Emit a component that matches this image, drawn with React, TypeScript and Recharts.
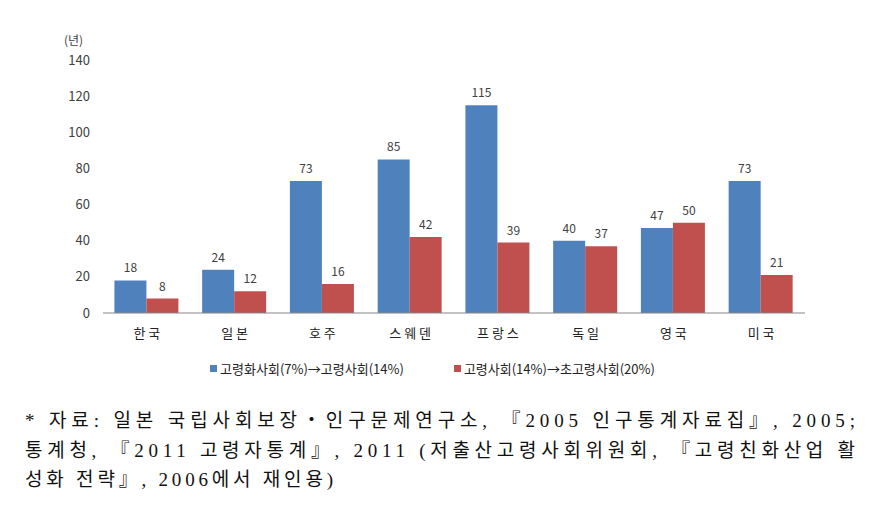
// Years taken to move between ageing-society stages, by country (grouped bars + source note).
import { Bar, BarChart, LabelList, Legend, XAxis, YAxis } from "recharts";

const countries = ["한 국", "일 본", "호 주", "스 웨 덴", "프 랑 스", "독 일", "영 국", "미 국"];
const agingToAged = [18, 24, 73, 85, 115, 40, 47, 73];
const agedToSuperAged = [8, 12, 16, 42, 39, 37, 50, 21];
const yTicks = [0, 20, 40, 60, 80, 100, 120, 140];

const seriesNames = ["고령화사회(7%)→고령사회(14%)", "고령사회(14%)→초고령사회(20%)"];
const noteLines = [
  "* 자료: 일본 국립사회보장・인구문제연구소, 『2005 인구통계자료집』, 2005;",
  "통계청, 『2011 고령자통계』, 2011 (저출산고령사회위원회, 『고령친화산업 활",
  "성화 전략』, 2006에서 재인용)",
];
const noteWidths = [830, 830, 308];

const BLUE = "#4F81BD";
const RED = "#C0504D";
const TEXT = "#404040";
const SANS = "'Noto Sans CJK KR', 'Noto Sans', sans-serif";

const data = countries.map((c, i) => ({ country: c, a: agingToAged[i], b: agedToSuperAged[i] }));

function LegendBox() {
  const items = [
    { name: seriesNames[0], color: BLUE },
    { name: seriesNames[1], color: RED },
  ];
  return (
    <div style={{ display: "flex", justifyContent: "center", gap: 50, paddingTop: 16, marginLeft: 60, fontSize: 13, color: "#222", fontFamily: SANS }}>
      {items.map((it) => (
        <span key={it.name} style={{ display: "flex", alignItems: "center" }}>
          <span style={{ width: 7, height: 7, background: it.color, marginRight: 3, display: "inline-block" }} />
          {it.name}
        </span>
      ))}
    </div>
  );
}

export default function App() {
  return (
    <div style={{ position: "absolute", left: 0, top: 0, width: 880, height: 513, background: "#fff" }}>
      <div style={{ position: "absolute", left: 64, top: 31, fontSize: 12, color: TEXT, fontFamily: SANS }}>(년)</div>
      <BarChart
        width={880}
        height={395}
        data={data}
        margin={{ top: 60, right: 75, bottom: 0, left: 0 }}
        barCategoryGap="13%"
        barGap={0}
      >
        <XAxis
          dataKey="country"
          axisLine={{ stroke: "#868686" }}
          tickLine={false}
          tickMargin={10}
          height={30}
          tick={{ fontSize: 13, fill: "#222", fontFamily: SANS }}
        />
        <YAxis
          width={103}
          domain={[0, 140]}
          ticks={yTicks}
          axisLine={false}
          tickLine={false}
          tickMargin={7}
          tick={{ fontSize: 13, fill: TEXT, fontFamily: SANS }}
        />
        <Legend verticalAlign="bottom" height={52} content={<LegendBox />} />
        <Bar dataKey="a" name={seriesNames[0]} fill={BLUE} isAnimationActive={false}>
          <LabelList dataKey="a" position="top" offset={8} style={{ fontSize: 12, fill: TEXT, fontFamily: SANS }} />
        </Bar>
        <Bar dataKey="b" name={seriesNames[1]} fill={RED} isAnimationActive={false}>
          <LabelList dataKey="b" position="top" offset={8} style={{ fontSize: 12, fill: TEXT, fontFamily: SANS }} />
        </Bar>
      </BarChart>
      <svg style={{ position: "absolute", left: 0, top: 400 }} width={880} height={113}>
        {noteLines.map((line, i) => (
          <text
            key={i}
            x={25}
            y={27 + i * 29.5}
            textLength={noteWidths[i]}
            lengthAdjust="spacing"
            fontSize={19}
            fill="#111"
            fontFamily="'Liberation Serif', 'Noto Sans CJK KR', serif"
          >
            {line}
          </text>
        ))}
      </svg>
    </div>
  );
}
